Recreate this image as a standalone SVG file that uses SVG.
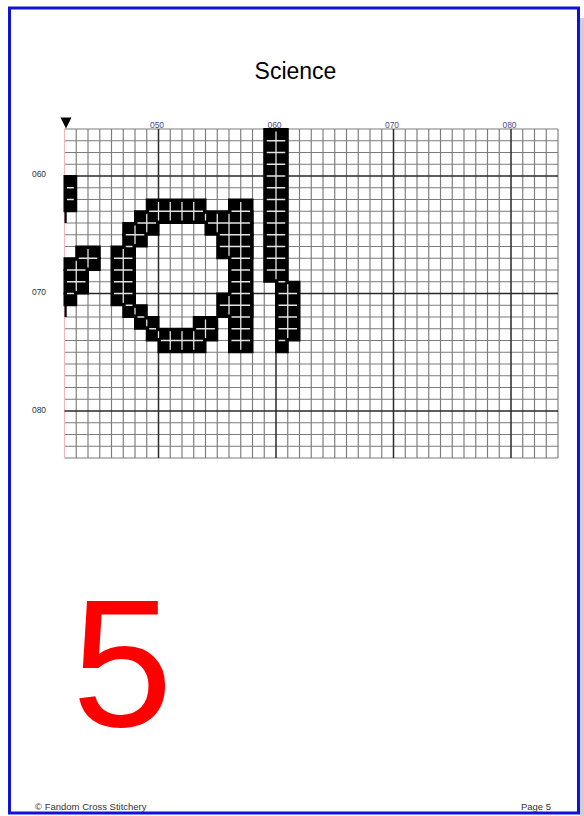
<svg xmlns="http://www.w3.org/2000/svg" xmlns:xlink="http://www.w3.org/1999/xlink" width="584" height="816" viewBox="0 0 584 816">
<style>
text{font-family:"Liberation Sans",Arial,sans-serif}
.minor{fill:none;stroke:#7c7c7c;stroke-width:1.15}
.major{fill:none;stroke:#2a2a2a;stroke-width:1.5}
.lbltop{font-size:8.5px;fill:#4a4a90;text-anchor:middle}
.lblleft{font-size:8.5px;fill:#333;text-anchor:middle}
.foot{font-size:9.5px;fill:#333}
</style>
<defs>
<path id="gridMinor" d="M76.25 129V458M88 129V458M99.75 129V458M111.5 129V458M123.25 129V458M135 129V458M146.75 129V458M170.25 129V458M182 129V458M193.75 129V458M205.5 129V458M217.25 129V458M229 129V458M240.75 129V458M252.5 129V458M264.25 129V458M287.75 129V458M299.5 129V458M311.25 129V458M323 129V458M334.75 129V458M346.5 129V458M358.25 129V458M370 129V458M381.75 129V458M405.25 129V458M417 129V458M428.75 129V458M440.5 129V458M452.25 129V458M464 129V458M475.75 129V458M487.5 129V458M499.25 129V458M522.75 129V458M534.5 129V458M546.25 129V458M558 129V458M64.5 129H558M64.5 140.75H558M64.5 152.5H558M64.5 164.25H558M64.5 187.75H558M64.5 199.5H558M64.5 211.25H558M64.5 223H558M64.5 234.75H558M64.5 246.5H558M64.5 258.25H558M64.5 270H558M64.5 281.75H558M64.5 305.25H558M64.5 317H558M64.5 328.75H558M64.5 340.5H558M64.5 352.25H558M64.5 364H558M64.5 375.75H558M64.5 387.5H558M64.5 399.25H558M64.5 422.75H558M64.5 434.5H558M64.5 446.25H558M64.5 458H558"/>
<path id="gridMajor" d="M158.5 129V458M276 129V458M393.5 129V458M511 129V458M64.5 176H558M64.5 293.5H558M64.5 411H558"/>
<g id="cells">
<rect x="64.5" y="176" width="11.75" height="35.25"/>
<rect x="76.25" y="246.5" width="23.5" height="11.75"/>
<rect x="64.5" y="258.25" width="35.25" height="11.75"/>
<rect x="64.5" y="270" width="23.5" height="23.5"/>
<rect x="64.5" y="293.5" width="11.75" height="11.75"/>
<rect x="229" y="199.5" width="23.5" height="152.75"/>
<rect x="146.75" y="199.5" width="58.75" height="11.75"/>
<rect x="135" y="211.25" width="117.5" height="11.75"/>
<rect x="123.25" y="223" width="35.25" height="11.75"/>
<rect x="205.5" y="223" width="47" height="11.75"/>
<rect x="123.25" y="234.75" width="23.5" height="11.75"/>
<rect x="217.25" y="234.75" width="35.25" height="23.5"/>
<rect x="111.5" y="246.5" width="23.5" height="58.75"/>
<rect x="217.25" y="293.5" width="35.25" height="23.5"/>
<rect x="123.25" y="305.25" width="23.5" height="11.75"/>
<rect x="135" y="317" width="23.5" height="11.75"/>
<rect x="193.75" y="317" width="23.5" height="11.75"/>
<rect x="146.75" y="328.75" width="70.5" height="11.75"/>
<rect x="158.5" y="340.5" width="47" height="11.75"/>
<rect x="264.25" y="129" width="23.5" height="152.75"/>
<rect x="276" y="281.75" width="23.5" height="58.75"/>
<rect x="276" y="340.5" width="11.75" height="11.75"/>
</g>
<filter id="erode" filterUnits="userSpaceOnUse" x="0" y="0" width="584" height="816">
<feMorphology operator="erode" radius="2.5"/>
</filter>
<mask id="inner" maskUnits="userSpaceOnUse" x="0" y="0" width="584" height="816">
<g filter="url(#erode)"><use href="#cells" fill="#fff" stroke="#fff" stroke-width="1"/></g>
</mask>
</defs>
<rect width="584" height="816" fill="#fff"/>
<g id="page">
<rect x="580" y="18" width="4" height="798" fill="#cfcfcf"/>
<rect x="9.5" y="8" width="569" height="805" fill="none" stroke="#1212d6" stroke-width="3"/>
</g>
<g id="title"><text x="295.5" y="79" font-size="23" text-anchor="middle" fill="#000">Science</text></g>
<g id="grid">
<use href="#gridMinor" class="minor"/>
<path d="M64.5 129V458" fill="none" stroke="#f2b6c2" stroke-width="1.2"/>
<use href="#gridMajor" class="major"/>
</g>
<g id="stitches">
<use href="#cells" fill="#000" stroke="#000" stroke-width="2"/>
<rect x="64.5" y="211.25" width="2.2" height="11.75" fill="#000"/>
<rect x="64.5" y="305.25" width="2.2" height="11.75" fill="#000"/>
<g mask="url(#inner)" fill="none" stroke="#e4e4e4" stroke-width="1.3">
<use href="#gridMinor"/>
<use href="#gridMajor"/>
</g>
</g>
<g id="marker"><polygon points="60.5,117.5 71.5,117.5 66,128.5" fill="#000"/></g>
<g id="top-labels">
<text class="lbltop" x="157" y="128">050</text>
<text class="lbltop" x="274.5" y="128">060</text>
<text class="lbltop" x="392" y="128">070</text>
<text class="lbltop" x="509.5" y="128">080</text>
</g>
<g id="left-labels">
<text class="lblleft" x="39" y="177">060</text>
<text class="lblleft" x="39" y="295">070</text>
<text class="lblleft" x="39" y="413">080</text>
</g>
<g id="page-number"><text x="72" y="726" font-size="181" fill="#ff0000">5</text></g>
<g id="footer">
<text class="foot" x="35" y="810">© Fandom Cross Stitchery</text>
<text class="foot" x="551" y="810" text-anchor="end">Page 5</text>
</g>
</svg>
